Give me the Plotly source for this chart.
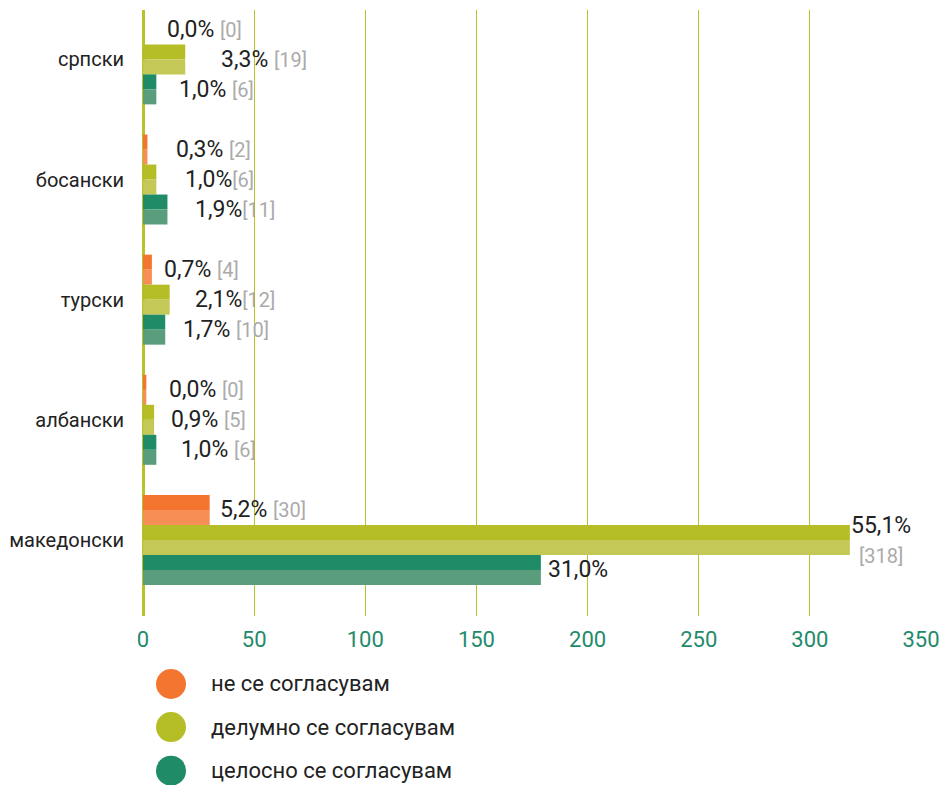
import plotly.graph_objects as go

# ---------------- data ----------------
categories = ["српски", "босански", "турски", "албански", "македонски"]
series_names = ["не се согласувам", "делумно се согласувам", "целосно се согласувам"]

# bar lengths (number of responses)
disagree = [0, 2, 4, 1.5, 30]
partly = [19, 6, 12, 5, 318]
fully = [6, 11, 10, 6, 179]

# printed labels
disagree_pct = ["0,0%", "0,3%", "0,7%", "0,0%", "5,2%"]
partly_pct = ["3,3%", "1,0%", "2,1%", "0,9%", "55,1%"]
fully_pct = ["1,0%", "1,9%", "1,7%", "1,0%", "31,0%"]
disagree_n = ["[0]", "[2]", "[4]", "[0]", "[30]"]
partly_n = ["[19]", "[6]", "[12]", "[5]", "[318]"]
fully_n = ["[6]", "[11]", "[10]", "[6]", ""]

x_ticks = [0, 50, 100, 150, 200, 250, 300, 350]

# ---------------- style ----------------
dark_colors = ["#F47530", "#B5BE26", "#1F8B67"]
light_colors = ["#F68E55", "#C3C856", "#5A9D7D"]
grid_color = "#BAC22A"
tick_color = "#1F8B6A"
text_color = "#222222"
count_color = "#ABABAB"
FONT = "Roboto"

# per-label horizontal offsets (px) and separators between % and count
x_offsets = [
    [22, 34, 21],
    [27, 27, 26],
    [10, 23, 16],
    [21, 15, 23],
    [8, -1, 5],
]
separators = [
    [" ", " ", " "],
    [" ", "", ""],
    [" ", "", " "],
    [" ", " ", " "],
    [" ", "<br>", ""],
]
y_offsets = [30, 0, -30]  # vertical offset of each series' label from category centre

values = [disagree, partly, fully]
pcts = [disagree_pct, partly_pct, fully_pct]
counts = [disagree_n, partly_n, fully_n]

fig = go.Figure()
for s in range(3):
    for col in [dark_colors[s], light_colors[s]]:
        fig.add_trace(go.Bar(
            y=categories, x=values[s], orientation="h",
            marker=dict(color=col, line=dict(width=0)),
            showlegend=False, hoverinfo="skip",
        ))

annotations = []
for i, cat in enumerate(categories):
    for s in range(3):
        sep = separators[i][s]
        cnt = counts[s][i]
        txt = pcts[s][i]
        if cnt:
            txt += sep + f'<span style="font-size:20px;color:{count_color}">{cnt}</span>'
        annotations.append(dict(
            x=values[s][i], y=cat, xref="x", yref="y",
            text=txt, showarrow=False, xanchor="left", yanchor="middle",
            align="center", xshift=x_offsets[i][s], yshift=y_offsets[s],
            font=dict(family=FONT, size=23, color=text_color),
        ))

# legend drawn as large circles with labels underneath the chart
legend_y = [-0.1122, -0.1832, -0.2553]
for s, name in enumerate(series_names):
    fig.add_shape(
        type="circle", xref="paper", yref="paper",
        xsizemode="pixel", ysizemode="pixel",
        xanchor=0.036, yanchor=legend_y[s],
        x0=-15, x1=15, y0=-15, y1=15,
        fillcolor=dark_colors[s], line=dict(width=0),
    )
    annotations.append(dict(
        x=0.0848, y=legend_y[s], xref="paper", yref="paper",
        text=name, showarrow=False, xanchor="left", yanchor="middle",
        font=dict(family=FONT, size=22, color=text_color),
    ))

# the page body has an 8px margin, so the figure is sized/offset to compensate
fig.update_layout(
    width=942, height=777,
    margin=dict(l=135, r=29, t=2, b=169, pad=0),
    paper_bgcolor="white", plot_bgcolor="white",
    barmode="group", bargap=0.251, bargroupgap=0,
    showlegend=False,
    annotations=annotations,
    font=dict(family=FONT, color=text_color),
)
fig.update_xaxes(
    range=[0, 350], tickvals=x_ticks, ticktext=[str(t) for t in x_ticks],
    showgrid=True, gridcolor=grid_color, gridwidth=1.4,
    zeroline=True, zerolinecolor=grid_color, zerolinewidth=2.5,
    showline=False, ticks="outside", ticklen=4, tickcolor="rgba(0,0,0,0)",
    tickfont=dict(family=FONT, size=22, color=tick_color),
)
fig.update_yaxes(
    type="category", categoryorder="array", categoryarray=categories,
    range=[4.633, -0.411], showgrid=False, zeroline=False, showline=False,
    ticks="outside", ticklen=14, tickcolor="rgba(0,0,0,0)",
    tickfont=dict(family=FONT, size=20, color=text_color),
)

fig.write_html("out.html")
